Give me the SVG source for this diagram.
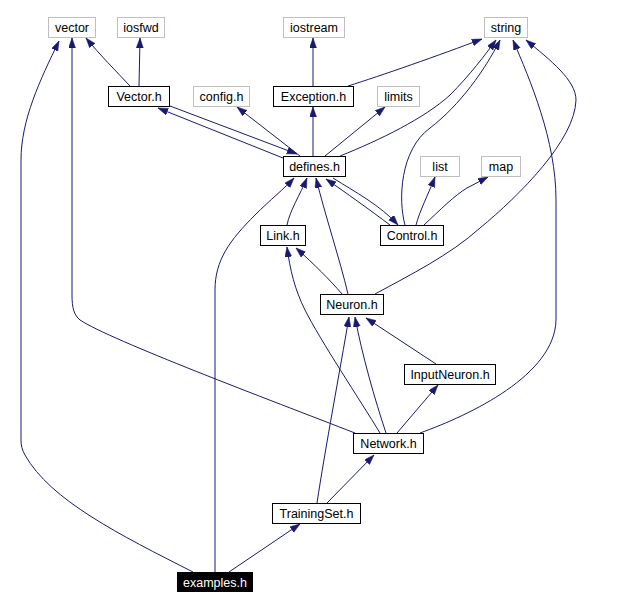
<svg xmlns="http://www.w3.org/2000/svg" width="625" height="609" viewBox="0 0 625 609">
<style>
.n rect{fill:#fff;stroke:#000;stroke-width:1}
.n.ext rect{stroke:#bfbfbf}
.n.cur rect{fill:#000;stroke:#000}
.n text{font-family:"Liberation Sans",Arial,sans-serif;font-size:12.5px;text-anchor:middle;fill:#000}
.n.cur text{fill:#fff}
#edges path{fill:none;stroke:#191970;stroke-width:1;marker-end:url(#ah)}
</style>
<defs>
<marker id="ah" markerUnits="userSpaceOnUse" markerWidth="11" markerHeight="8" refX="10" refY="3.5" orient="auto">
<path d="M0,0 L10,3.5 L0,7 z" fill="#191970" stroke="#191970" stroke-width="0.5"/>
</marker>
</defs>
<rect width="625" height="609" fill="#fff"/>
<g id="edges">
<path d="M130,86 C115,70 100,55 86,38"/>
<path d="M139,86 L140,38"/>
<path d="M313,86 L313,38"/>
<path d="M348,86 C380,76 440,55 482,39"/>
<path d="M170,106 L297,154"/>
<path d="M283,158 L158,108"/>
<path d="M300,156 L237,107"/>
<path d="M313,156 L313,107"/>
<path d="M325,156 L385,107"/>
<path d="M340,156 C380,140 425,118 450,95 C470,75 485,55 496,40"/>
<path d="M333,178 C355,192 380,205 398,225"/>
<path d="M390,225 C370,210 345,192 326,179"/>
<path d="M405,225 C398,200 400,150 430,128 C460,105 485,70 500,40"/>
<path d="M416,225 C420,210 428,195 435,177"/>
<path d="M424,225 C440,210 455,195 467,188 L488,177"/>
<path d="M287,225 C290,210 300,195 307,178"/>
<path d="M348,294 C340,260 325,215 316,178"/>
<path d="M342,294 C330,280 315,265 296,248"/>
<path d="M375,294 C410,275 450,255 480,228 C520,195 575,140 576,100 C576,80 550,60 526,40"/>
<path d="M436,364 L366,318"/>
<path d="M386,433 C375,400 362,355 355,317"/>
<path d="M380,433 C360,400 320,340 305,310 C295,290 290,270 287,247"/>
<path d="M397,433 L438,385"/>
<path d="M420,433 C470,415 555,375 556,320 L556,200 C556,140 530,80 513,40"/>
<path d="M355,433 C270,400 110,340 80,320 C74,315 72,308 72,295 L72,38"/>
<path d="M317,503 C325,450 340,370 349,317"/>
<path d="M327,503 L374,455"/>
<path d="M193,572 C120,535 50,500 25,455 C22,450 21,445 21,440 L21,160 C21,120 40,80 59,41"/>
<path d="M215,572 L215,290 C215,260 230,240 255,215 C270,200 285,188 294,178"/>
<path d="M229,572 L300,524"/>
</g>
<g id="vector" class="n ext"><rect x="48.5" y="17.5" width="47" height="20"/><text x="72" y="32">vector</text></g>
<g id="iosfwd" class="n ext"><rect x="117.5" y="17.5" width="47" height="20"/><text x="141" y="32">iosfwd</text></g>
<g id="iostream" class="n ext"><rect x="283.5" y="17.5" width="61" height="20"/><text x="314" y="32">iostream</text></g>
<g id="string" class="n ext"><rect x="484.5" y="17.5" width="43" height="20"/><text x="506" y="32">string</text></g>
<g id="Vector_h" class="n"><rect x="108.5" y="86.5" width="61" height="20"/><text x="139" y="101">Vector.h</text></g>
<g id="config_h" class="n ext"><rect x="193.5" y="86.5" width="56" height="20"/><text x="221.5" y="101">config.h</text></g>
<g id="Exception_h" class="n"><rect x="273.5" y="86.5" width="80" height="20"/><text x="313.5" y="101">Exception.h</text></g>
<g id="limits" class="n ext"><rect x="377.5" y="86.5" width="42" height="20"/><text x="398.5" y="101">limits</text></g>
<g id="defines_h" class="n"><rect x="283.5" y="156.5" width="62" height="20"/><text x="314.5" y="171">defines.h</text></g>
<g id="list" class="n ext"><rect x="420.5" y="156.5" width="39" height="20"/><text x="440" y="171">list</text></g>
<g id="map" class="n ext"><rect x="481.5" y="156.5" width="39" height="20"/><text x="501" y="171">map</text></g>
<g id="Link_h" class="n"><rect x="260.5" y="225.5" width="45" height="20"/><text x="283" y="240">Link.h</text></g>
<g id="Control_h" class="n"><rect x="380.5" y="225.5" width="63" height="20"/><text x="412" y="240">Control.h</text></g>
<g id="Neuron_h" class="n"><rect x="320.5" y="294.5" width="63" height="20"/><text x="352" y="309">Neuron.h</text></g>
<g id="InputNeuron_h" class="n"><rect x="404.5" y="364.5" width="91" height="20"/><text x="450" y="379">InputNeuron.h</text></g>
<g id="Network_h" class="n"><rect x="353.5" y="433.5" width="70" height="20"/><text x="388.5" y="448">Network.h</text></g>
<g id="TrainingSet_h" class="n"><rect x="272.5" y="503.5" width="88" height="20"/><text x="316.5" y="518">TrainingSet.h</text></g>
<g id="examples_h" class="n cur"><rect x="177.5" y="572.5" width="75" height="19"/><text x="215" y="587">examples.h</text></g>
</svg>
